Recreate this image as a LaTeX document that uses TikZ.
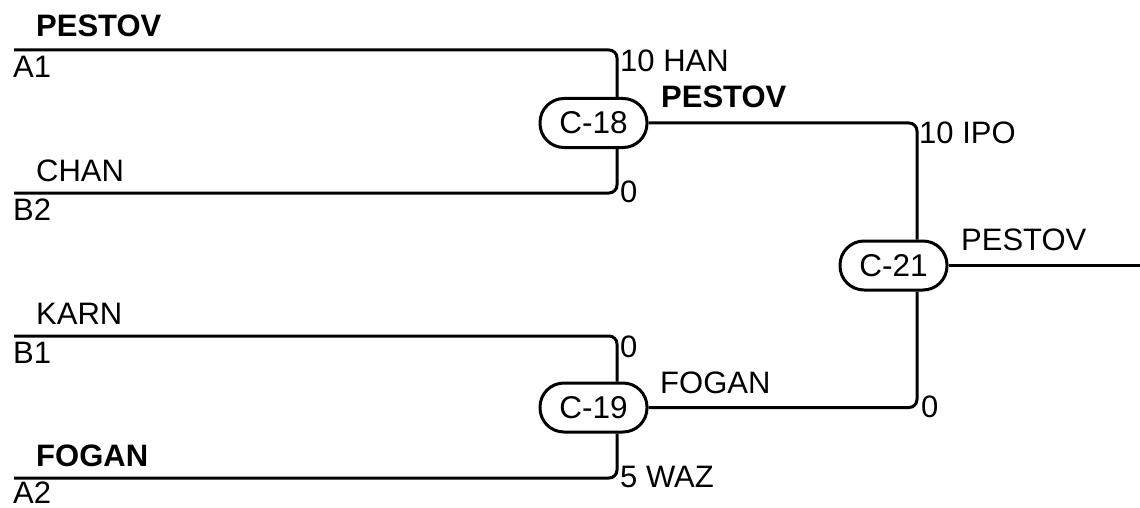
\documentclass[tikz,border=0pt]{standalone}
\usepackage{fontspec}
\setmainfont{Liberation Sans}
\begin{document}
\begin{tikzpicture}[x=1pt,y=-1pt,
  wire/.style={line width=3pt,rounded corners=8pt},
  game/.style={draw,line width=3pt,minimum width=107pt,minimum height=49pt,rounded corners=24pt,inner sep=0pt,font=\fontsize{31.5}{36}\selectfont},
  lbl/.style={anchor=base west,inner sep=0pt,font=\fontsize{31}{36}\selectfont},
  blbl/.style={lbl,font=\fontsize{31}{36}\selectfont\bfseries}]
\useasboundingbox (0,0) rectangle (1140,508);
\node[game] (c18) at (593.5,123) {C-18};
\node[game] (c19) at (593.5,407.5) {C-19};
\node[game] (c21) at (893.5,265.5) {C-21};
\coordinate (a1) at (14,50);
\coordinate (b2) at (14,193);
\coordinate (b1) at (14,336);
\coordinate (a2) at (14,478);
\coordinate (out) at (1140,265.5);
% connectors
\draw[wire] (a1) -| ([xshift=23.5pt]c18.north);
\draw[wire] (b2) -| ([xshift=23.5pt]c18.south);
\draw[wire] (b1) -| ([xshift=23.5pt]c19.north);
\draw[wire] (a2) -| ([xshift=23.5pt]c19.south);
\draw[wire] (c18.east) -| ([xshift=23.5pt]c21.north);
\draw[wire] (c19.east) -| ([xshift=23.5pt]c21.south);
\draw[wire] (c21.east) -- (out);
% labels left
\node[blbl] (t1) at (36,37) {PESTOV};
\node[lbl] (t2) at (13,78) {A1};
\node[lbl] (t3) at (36,181) {CHAN};
\node[lbl] (t4) at (13,220) {B2};
\node[lbl] (t5) at (36,324) {KARN};
\node[lbl] (t6) at (13,363) {B1};
\node[blbl] (t7) at (36,466) {FOGAN};
\node[lbl] (t8) at (13,503) {A2};
% labels middle
\node[lbl] (s1) at (620,72) {10 HAN};
\node[lbl] (s2) at (620,202) {0};
\node[blbl] (s3) at (661,108) {PESTOV};
\node[lbl] (s4) at (620,357) {0};
\node[lbl] (s5) at (620,487) {5 WAZ};
\node[lbl] (s6) at (660,393) {FOGAN};
% labels right
\node[lbl] (r1) at (919,143) {10 IPO};
\node[lbl] (r2) at (921,417) {0};
\node[lbl] (r3) at (961,250) {PESTOV};
\end{tikzpicture}
\end{document}
